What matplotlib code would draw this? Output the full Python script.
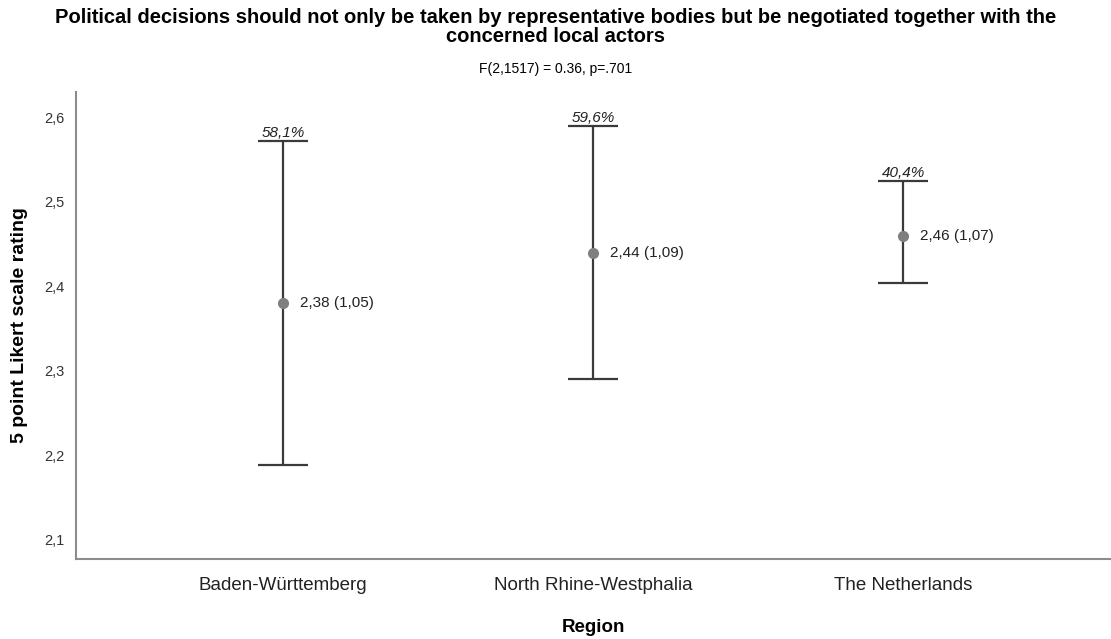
import matplotlib
matplotlib.use("Agg")
import matplotlib.pyplot as plt
from matplotlib.ticker import FuncFormatter

plt.rcParams["font.family"] = ["Liberation Sans", "DejaVu Sans"]

# group means, SDs and 95% CI bounds per region
regions = ["Baden-Württemberg", "North Rhine-Westphalia", "The Netherlands"]
means = [2.38, 2.44, 2.46]
sds = [1.05, 1.09, 1.07]
ci_low = [2.189, 2.291, 2.404]
ci_high = [2.572, 2.590, 2.525]
agree_pct = ["58,1%", "59,6%", "40,4%"]
y_ticks = [2.1, 2.2, 2.3, 2.4, 2.5, 2.6]

fig = plt.figure(figsize=(11.11, 6.39), dpi=100)
ax = fig.add_axes([0.0684, 0.1252, 0.9306, 0.7308])

x = list(range(len(regions)))
err_lo = [m - lo for m, lo in zip(means, ci_low)]
err_hi = [hi - m for m, hi in zip(means, ci_high)]

ax.errorbar(x, means, yerr=[err_lo, err_hi], fmt="none",
            ecolor="#3a3a3a", elinewidth=1.6, capsize=18, capthick=1.6)
ax.plot(x, means, "o", color="#7f7f7f", markersize=7, zorder=3)

for xi, m, sd, hi, pct in zip(x, means, sds, ci_high, agree_pct):
    ax.annotate(f"{m:.2f} ({sd:.2f})".replace(".", ","), (xi, m),
                xytext=(12, 0), textcoords="offset points",
                ha="left", va="center", fontsize=11, color="#222222")
    ax.annotate(pct, (xi, hi), xytext=(0, 0.5), textcoords="offset points",
                ha="center", va="bottom", fontsize=11, style="italic",
                color="#222222")

ax.set_xlim(-0.667, 2.667)
ax.set_ylim(2.0775, 2.63)
ax.set_xticks(x)
ax.set_xticklabels(regions, fontsize=13.5, color="#222222")
ax.set_yticks(y_ticks)
ax.yaxis.set_major_formatter(FuncFormatter(lambda v, p: f"{v:.1f}".replace(".", ",")))
ax.tick_params(axis="y", length=0, pad=8, labelsize=10.5, labelcolor="#333333")
ax.tick_params(axis="x", length=0, pad=13)

for side in ["top", "right"]:
    ax.spines[side].set_visible(False)
for side in ["left", "bottom"]:
    ax.spines[side].set_color("#8c8c8c")
    ax.spines[side].set_linewidth(1.5)

ax.set_xlabel("Region", fontsize=13.5, fontweight="bold", labelpad=18)
ax.set_ylabel("5 point Likert scale rating", fontsize=14, fontweight="bold", labelpad=12)

fig.text(0.5, 0.988, "Political decisions should not only be taken by representative bodies "
         "but be negotiated together with the\nconcerned local actors",
         ha="center", va="top", fontsize=14.5, fontweight="bold", linespacing=1.02)
fig.text(0.5, 0.892, "F(2,1517) = 0.36, p=.701", ha="center", va="center", fontsize=10)

fig.savefig("out.png", dpi=100)
